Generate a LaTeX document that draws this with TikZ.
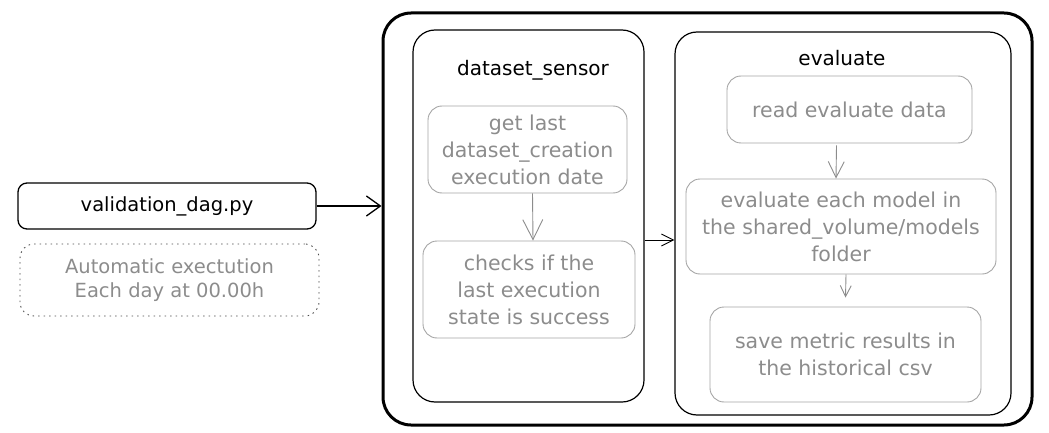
\documentclass[tikz,border=0pt]{standalone}
\usepackage{fontspec}
\setmainfont{DejaVu Sans}
\usetikzlibrary{arrows.meta}
\usetikzlibrary{positioning}
\definecolor{sketchgray}{RGB}{165,165,165}
\definecolor{textgray}{RGB}{140,140,140}

\begin{document}
\begin{tikzpicture}[x=1pt,y=-1pt,
    group/.style={draw, line width=1.2pt, rounded corners=22pt, minimum width=#1},
    task/.style={draw=sketchgray, line width=0.9pt, rounded corners=14pt, text=textgray,
        align=center, inner sep=0pt, font=\fontsize{20.5}{27}\selectfont},
    title/.style={font=\fontsize{20}{25}\selectfont},
    bigtip/.style={line width=1.3pt, -{Straight Barb[length=14pt,width=20pt,line width=1.3pt]}},
    smalltip/.style={line width=0.9pt, -{Straight Barb[length=#1,width=#1,line width=0.9pt]}}]
    \useasboundingbox (0,0) rectangle (1049,433);
    % trigger
    \node[draw, line width=1.3pt, rounded corners=9pt, minimum width=298pt, minimum height=46pt,
        title, font=\fontsize{19.5}{25}\selectfont] (dag) at (167,206) {validation\_dag.py};
    \node[task, draw=black!70, dash pattern=on 1.5pt off 4pt, minimum width=299pt,
        minimum height=72pt, font=\fontsize{19.5}{24}\selectfont] (auto) at (169.5,280)
        {Automatic exectution\\Each day at 00.00h};
    % main pipeline
    \node[draw, line width=3pt, rounded corners=28pt, minimum width=649pt,
        minimum height=412pt] (pipeline) at (707.5,219) {};
    \node[group=231pt, minimum height=372pt] (sensor) at (528.5,216) {};
    \node[group=336pt, minimum height=383pt] (eval) at (843,223.5) {};
    \node[title] (sensortitle) at (533,70) {dataset\_sensor};
    \node[title] (evaltitle) at (842,58) {evaluate};
    % sensor tasks
    \node[task, minimum width=199pt, minimum height=87pt] (getdate) at (527.5,149.5)
        {get last\\dataset\_creation\\execution date};
    \node[task, minimum width=212pt, minimum height=97pt] (checks) at (529,289.5)
        {checks if the\\last execution\\state is success};
    % evaluate tasks
    \node[task, minimum width=245pt, minimum height=67pt] (readdata) at (849.5,109.5)
        {read evaluate data};
    \node[task, minimum width=310pt, minimum height=95pt] (models) at (841,226.5)
        {evaluate each model in\\the shared\_volume/models\\folder};
    \node[task, minimum width=271pt, minimum height=95pt] (save) at (845.5,354.5)
        {save metric results in\\the historical csv};
    % arrows
    \draw[bigtip] (dag.east) -- ([yshift=13pt]pipeline.west);
    \draw[smalltip=12pt] ([yshift=-24pt]sensor.east) -- ([yshift=-16.5pt]eval.west);
    \draw[smalltip=20pt, draw=textgray] ([xshift=5pt]getdate.south) -- ([xshift=4pt]checks.north);
    \draw[smalltip=16pt, draw=textgray] ([xshift=-13pt,yshift=-2pt]readdata.south) -- ([xshift=-5pt]models.north);
    \draw[smalltip=11pt, draw=textgray] ([xshift=5pt]models.south) -- ([yshift=9pt]save.north);
\end{tikzpicture}
\end{document}
